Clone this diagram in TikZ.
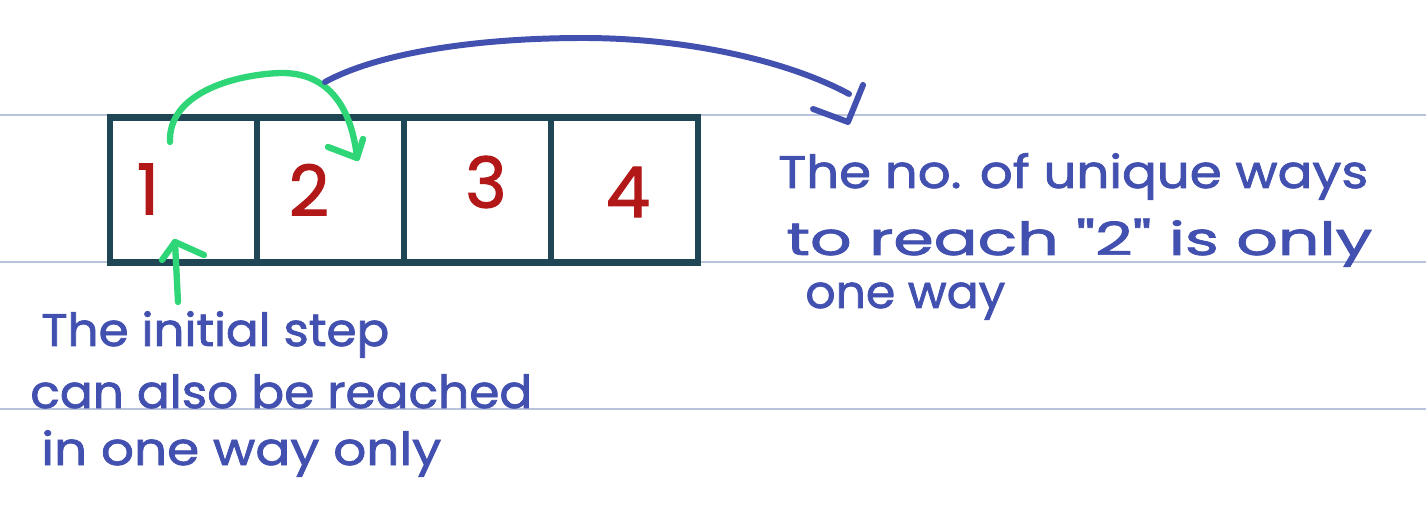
\documentclass[tikz,border=0pt]{standalone}
\usepackage{fontspec}
\setmainfont{Poppins}[Ligatures=TeXOff]
\newfontfamily\handfont{Poppins}[Ligatures=TeXOff,FakeBold=1.6]
\usepackage{graphicx}
\usetikzlibrary{arrows.meta}
\definecolor{inkblue}{RGB}{66,80,175}
\definecolor{inkgreen}{RGB}{46,214,120}
\definecolor{inkred}{RGB}{178,24,24}
\definecolor{boxcol}{RGB}{30,70,85}
\definecolor{rulecol}{RGB}{185,196,220}
\newcommand\hwline[2]{\resizebox{#1}{\height}{#2}}
\begin{document}
\begin{tikzpicture}[x=0.02cm,y=-0.02cm,
  ruleline/.style={draw=rulecol,line width=0.7pt},
  cell/.style={draw=boxcol,line width=3.8pt,minimum width=2.94cm,minimum height=2.9cm,inner sep=0pt},
  digit/.style={text=inkred,font=\handfont\fontsize{40}{40}\selectfont,inner sep=0pt},
  note/.style={text=inkblue,font=\handfont\fontsize{26}{30}\selectfont,anchor=base west,inner sep=0pt},
  greenpen/.style={draw=inkgreen,line width=3.6pt,line cap=round,line join=round},
  bluepen/.style={draw=inkblue,line width=3.4pt,line cap=round,line join=round}]
\useasboundingbox (0,0) rectangle (1426,523);
% ruled lines
\coordinate (r1a) at (0,115); \coordinate (r1b) at (1426,115);
\coordinate (r2a) at (0,262); \coordinate (r2b) at (1426,262);
\coordinate (r3a) at (0,409); \coordinate (r3b) at (1426,409);
\draw[ruleline] (r1a) -- (r1b);
\draw[ruleline] (r2a) -- (r2b);
\draw[ruleline] (r3a) -- (r3b);
% cells
\node[cell] (c1) at (183.5,190) {};
\node[cell] (c2) at (330.5,190) {};
\node[cell] (c3) at (477.5,190) {};
\node[cell] (c4) at (624.5,190) {};
% digits
\node[digit] (n1) at (148,189) {1};
\node[digit] (n2) at (309,190) {2};
\node[digit] (n3) at (486,182) {3};
\node[digit] (n4) at (628,192) {4};
% green jump arrow 1 -> 2
\coordinate (ga) at (170,142);
\coordinate (gt) at (280,73);
\coordinate (gb) at (357,158);
\coordinate (gb1) at (328,147);
\coordinate (gb2) at (363,139);
\draw[greenpen] (ga) .. controls (168,95) and (230,75) .. (gt) .. controls (330,72) and (352,110) .. (gb);
\draw[greenpen] (gb1) -- (gb) -- (gb2);
% green up arrow
\coordinate (ua) at (178,302);
\coordinate (ut) at (175,242);
\coordinate (ub1) at (162,260);
\coordinate (ub2) at (204,255);
\draw[greenpen] (ua) -- (ut);
\draw[greenpen] (ub1) -- (ut) -- (ub2);
% blue arc
\coordinate (ba) at (325,82);
\coordinate (bt) at (583,38);
\coordinate (bb) at (849,94);
\coordinate (bh) at (848,122);
\coordinate (bh1) at (863,85);
\coordinate (bh2) at (813,109);
\draw[bluepen] (ba) .. controls (380,52) and (480,38) .. (bt) .. controls (690,38) and (790,62) .. (bb);
\draw[bluepen] (bh1) -- (bh) -- (bh2);
% left note
\node[note] (l1) at (41,346) {\hwline{6.96cm}{The initial step}};
\node[note] (l2) at (30,408) {\hwline{10.04cm}{can also be reached}};
\node[note] (l3) at (41,465) {\hwline{8.0cm}{in one way only}};
% right note
\node[note] (t1) at (778,188) {\hwline{11.8cm}{The no. of unique ways}};
\node[note] (t2) at (786,255) {\hwline{11.72cm}{to reach "2" is only}};
\node[note] (t3) at (805,308) {\hwline{4.0cm}{one way}};
\end{tikzpicture}
\end{document}
